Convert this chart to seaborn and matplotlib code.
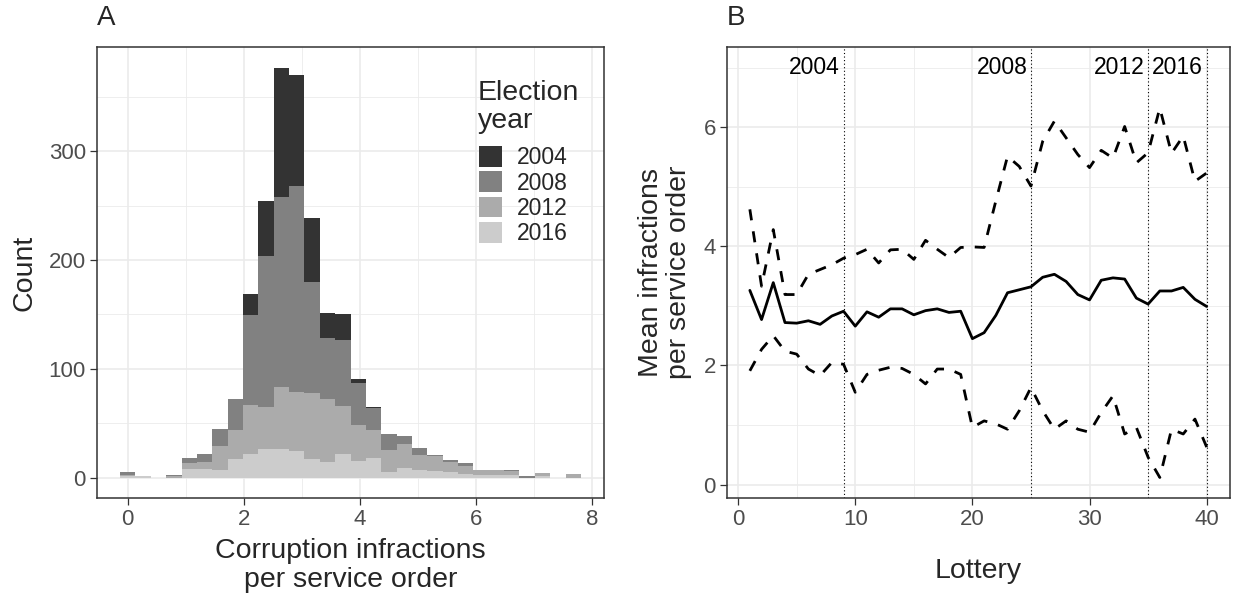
import numpy as np
import pandas as pd
import matplotlib
matplotlib.use("Agg")
import matplotlib.pyplot as plt
from matplotlib.patches import Patch
from matplotlib.ticker import MultipleLocator
import seaborn as sns

# ---------------- data ----------------
YEARS = [2004, 2008, 2012, 2016]
BIN_WIDTH = 0.2645
N_BINS = 30
# stacked histogram counts per bin (30 bins, centred at k * BIN_WIDTH)
COUNTS_2016 = [1, 1, 0, 0, 8, 8, 7, 17, 22, 26, 26, 24, 17, 14, 22, 15, 18, 5, 9, 7, 6, 5, 3, 2, 2, 2, 0, 1, 0, 0]
COUNTS_2012 = [1, 0, 0, 1, 5, 6, 22, 27, 45, 39, 57, 55, 61, 58, 44, 33, 26, 20, 22, 14, 14, 9, 8, 5, 5, 4, 0, 3, 0, 3]
COUNTS_2008 = [3, 0, 0, 1, 5, 8, 16, 28, 82, 139, 175, 189, 102, 56, 60, 39, 20, 15, 7, 6, 1, 2, 2, 0, 0, 1, 1, 0, 0, 0]
COUNTS_2004 = [0, 0, 0, 0, 0, 0, 0, 0, 20, 50, 119, 102, 59, 23, 24, 4, 1, 0, 0, 0, 0, 0, 0, 0, 0, 0, 0, 0, 0, 0]

LOTTERY = list(range(1, 41))
MEAN = [3.26, 2.77, 3.39, 2.72, 2.71, 2.75, 2.69, 2.83, 2.91, 2.66,
        2.90, 2.81, 2.95, 2.95, 2.85, 2.92, 2.95, 2.89, 2.91, 2.45,
        2.55, 2.84, 3.22, 3.27, 3.32, 3.48, 3.53, 3.41, 3.19, 3.10,
        3.43, 3.47, 3.45, 3.13, 3.03, 3.25, 3.25, 3.31, 3.11, 2.99]
UPPER = [4.62, 3.33, 4.28, 3.19, 3.19, 3.53, 3.61, 3.69, 3.80, 3.86,
         3.95, 3.72, 3.94, 3.95, 3.78, 4.10, 3.95, 3.81, 3.98, 3.99,
         3.98, 4.76, 5.51, 5.34, 5.01, 5.76, 6.10, 5.82, 5.54, 5.32,
         5.61, 5.48, 6.01, 5.40, 5.57, 6.32, 5.56, 5.85, 5.09, 5.23]
LOWER = [1.91, 2.27, 2.50, 2.24, 2.19, 1.94, 1.83, 2.05, 2.02, 1.55,
         1.85, 1.92, 1.97, 1.95, 1.85, 1.69, 1.94, 1.94, 1.85, 0.96,
         1.07, 1.02, 0.93, 1.24, 1.63, 1.24, 0.93, 1.07, 0.93, 0.88,
         1.21, 1.49, 0.85, 0.96, 0.46, 0.12, 0.93, 0.85, 1.10, 0.63]
ELECTION_LOTTERY = [9, 25, 35, 40]
ELECTION_LABELS = ["2004", "2008", "2012", "2016"]

# ---------------- style ----------------
sns.set_style("white")
plt.rcParams["font.family"] = ["Liberation Sans", "DejaVu Sans"]

GREY = {2004: "#333333", 2008: "#818181", 2012: "#ABABAB", 2016: "#CCCCCC"}
TICK_FS = 16
TITLE_FS = 20.5

fig = plt.figure(figsize=(12.33, 6.03), dpi=100)
W, H = 1233, 603
axA = fig.add_axes([97 / W, 1 - 498 / H, 507 / W, 451 / H])
axB = fig.add_axes([727 / W, 1 - 498 / H, 502.5 / W, 451 / H])


def style_axes(ax):
    ax.set_axisbelow(True)
    ax.grid(which="major", color="#EBEBEB", linewidth=1.2)
    ax.grid(which="minor", color="#EBEBEB", linewidth=0.6)
    for s in ax.spines.values():
        s.set_visible(True)
        s.set_color("#333333")
        s.set_linewidth(1.1)
    ax.tick_params(which="major", direction="out", length=5, width=0.9,
                   color="#333333", labelsize=TICK_FS, labelcolor="#4D4D4D", pad=3,
                   bottom=True, left=True)
    ax.tick_params(which="minor", length=0)


# ---------------- panel A ----------------
centers = np.arange(N_BINS) * BIN_WIDTH
counts = {2004: COUNTS_2004, 2008: COUNTS_2008, 2012: COUNTS_2012, 2016: COUNTS_2016}
rows = []
for y in YEARS:
    for c, n in zip(centers, counts[y]):
        rows.append({"x": float(c), "n": float(n), "year": y})
dfA = pd.DataFrame(rows)

sns.histplot(data=dfA, x="x", weights="n", hue="year", hue_order=YEARS,
             palette=GREY, multiple="stack", binwidth=BIN_WIDTH,
             binrange=(-0.5 * BIN_WIDTH, (N_BINS - 0.5) * BIN_WIDTH), ax=axA,
             alpha=1, edgecolor="none", linewidth=0, legend=False)
axA.set_xlim(-0.53, 8.2)
axA.set_ylim(-18.85, 395.85)
axA.xaxis.set_major_locator(MultipleLocator(2))
axA.xaxis.set_minor_locator(MultipleLocator(1))
axA.yaxis.set_major_locator(MultipleLocator(100))
axA.yaxis.set_minor_locator(MultipleLocator(50))
style_axes(axA)
axA.set_xlabel("Corruption infractions\nper service order", fontsize=TITLE_FS, labelpad=6,
               linespacing=1.12)
axA.set_ylabel("Count", fontsize=TITLE_FS, labelpad=8)

# legend title as text, entries as legend
fig.text(478 / W, 1 - 99.5 / H, "Election", fontsize=TITLE_FS, ha="left", va="baseline")
fig.text(478 / W, 1 - 128.5 / H, "year", fontsize=TITLE_FS, ha="left", va="baseline")
handles = [Patch(facecolor=GREY[y], edgecolor="none", label=str(y)) for y in YEARS]
leg = axA.legend(handles=handles, loc="upper left",
                 bbox_to_anchor=((479 - 97) / 507, (498 - 146) / 451), frameon=False,
                 fontsize=16.5, handlelength=1.0, handleheight=1.0,
                 labelspacing=0.1, handletextpad=0.65, borderpad=0, borderaxespad=0)

fig.text(97 / W, 1 - 18 / H, "A", fontsize=20, ha="left", va="center")

# ---------------- panel B ----------------
dfB = pd.DataFrame({
    "lottery": LOTTERY * 3,
    "value": MEAN + UPPER + LOWER,
    "series": ["mean"] * 40 + ["upper"] * 40 + ["lower"] * 40,
})
sns.lineplot(data=dfB, x="lottery", y="value", style="series", units="series",
             estimator=None, dashes={"mean": "", "upper": (4, 4), "lower": (4, 4)},
             color="black", linewidth=2.0, ax=axB, legend=False)
for xv, lab in zip(ELECTION_LOTTERY, ELECTION_LABELS):
    axB.axvline(xv, color="black", linewidth=0.8, linestyle=(0, (1, 2.2)))
    axB.text(xv - 0.3, 7.0, lab, fontsize=16.5, ha="right", va="center", color="black")
axB.set_xlim(-0.95, 41.95)
axB.set_ylim(-0.224, 7.344)
axB.xaxis.set_major_locator(MultipleLocator(10))
axB.xaxis.set_minor_locator(MultipleLocator(5))
axB.yaxis.set_major_locator(MultipleLocator(2))
axB.yaxis.set_minor_locator(MultipleLocator(1))
style_axes(axB)
axB.set_xlabel("Lottery", fontsize=TITLE_FS, labelpad=20)
axB.set_ylabel("Mean infractions\nper service order", fontsize=TITLE_FS, labelpad=8,
               linespacing=1.12)

fig.text(727 / W, 1 - 18 / H, "B", fontsize=20, ha="left", va="center")

fig.savefig("out.png", dpi=100)
